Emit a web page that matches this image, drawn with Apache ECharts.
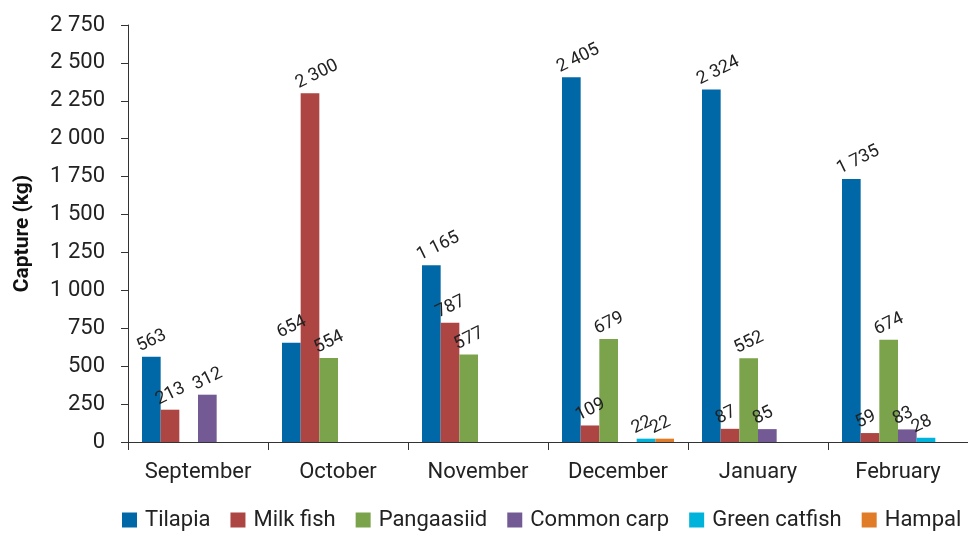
<!DOCTYPE html>
<html><head><meta charset="utf-8">
<script src="https://cdn.jsdelivr.net/npm/echarts@6/dist/echarts.min.js"></script>
<style>html,body{margin:0;padding:0;background:#fff}#c{width:968px;height:533px}</style>
</head><body><div id="c"></div>
<script>
const categories = ['September','October','November','December','January','February'];
const tilapia = [563, 654, 1165, 2405, 2324, 1735];
const milkFish = [213, 2300, 787, 109, 87, 59];
const pangaasiid = [null, 554, 577, 679, 552, 674];
const commonCarp = [312, null, null, null, 85, 83];
const greenCatfish = [null, null, null, 22, null, 28];
const hampal = [null, null, null, 22, null, null];
const seriesNames = ['Tilapia','Milk fish','Pangaasiid','Common carp','Green catfish','Hampal'];
const seriesData = [tilapia, milkFish, pangaasiid, commonCarp, greenCatfish, hampal];
const colors = ['#0068A6','#AD4542','#7AA34C','#735A94','#00B3DB','#E07B27'];

function fmt(v){ return String(v).replace(/\B(?=(\d{3})+(?!\d))/g, ' '); }
const FONT = 'Roboto';

const chart = echarts.init(document.getElementById('c'));
chart.setOption({
  animation: false,
  color: colors,
  grid: {left: 128, right: 0, top: 25, bottom: 91},
  legend: {
    bottom: 2, left: 122, width: 900, padding: 0, itemWidth: 15, itemHeight: 15, itemGap: 20,
    icon: 'rect',
    textStyle: {fontFamily: FONT, fontSize: 22, color: '#222', padding: [0,0,0,3]},
    data: seriesNames
  },
  xAxis: {
    type: 'category', data: categories,
    axisLine: {lineStyle: {color: '#333', width: 1}},
    axisTick: {show: true, length: 8, lineStyle: {color: '#333'}},
    axisLabel: {fontFamily: FONT, fontSize: 22, color: '#222', margin: 19, interval: 0}
  },
  yAxis: {
    type: 'value', min: 0, max: 2750, interval: 250,
    name: 'Capture (kg)', nameLocation: 'middle', nameGap: 95,
    nameTextStyle: {fontFamily: FONT, fontSize: 21, fontWeight: 'bold', color: '#111'},
    axisLine: {show: true, lineStyle: {color: '#333'}},
    axisTick: {show: true, length: 7, lineStyle: {color: '#333'}},
    splitLine: {show: false},
    axisLabel: {fontFamily: FONT, fontSize: 22, color: '#222', margin: 23, formatter: fmt}
  },
  series: seriesNames.map((n, i) => ({
    name: n, type: 'bar', data: seriesData[i],
    barGap: '0%', barCategoryGap: '20%',
    label: {
      show: true, position: [0, -1], rotate: 26, align: 'left', verticalAlign: 'bottom',
      fontFamily: FONT, fontSize: 18, color: '#222',
      formatter: p => fmt(p.value)
    }
  }))
});
</script></body></html>
